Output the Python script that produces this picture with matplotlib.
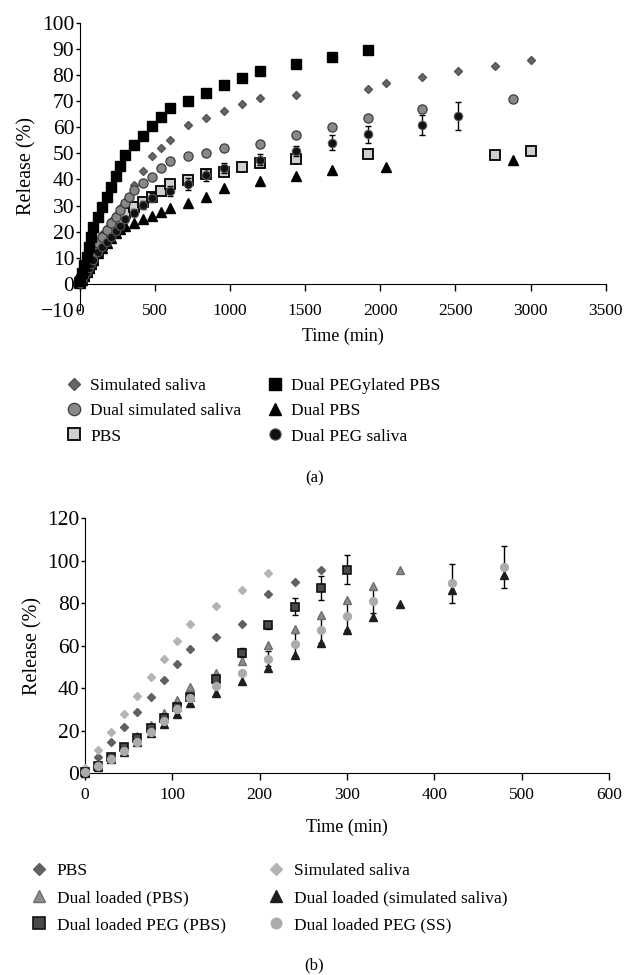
import matplotlib
matplotlib.use('Agg')
import matplotlib.pyplot as plt

plt.rcParams['font.family'] = ['Liberation Serif', 'DejaVu Serif']

# ---- panel (a): release over 3000 min ----
t_sal = [0, 15, 30, 45, 60, 75, 90, 120, 150, 180, 210, 240, 270, 300, 360, 420, 480, 540, 600,
         720, 840, 960, 1080, 1200, 1440, 1920, 2040, 2280, 2520, 2760, 3000]
sal = [0.5, 2, 4, 6, 8, 10, 12, 16.5, 19, 21.5, 24, 26.5, 29, 31.5, 37.8, 43.1, 48.9, 52.2, 55.2,
       60.7, 63.6, 66.3, 68.8, 71.3, 72.3, 74.8, 77, 79.3, 81.5, 83.6, 85.7]

t_dsal = [0, 15, 30, 45, 60, 75, 90, 105, 120, 150, 180, 210, 240, 270, 300, 330, 360, 420, 480,
          540, 600, 720, 840, 960, 1200, 1440, 1680, 1920, 2280, 2880]
dsal = [0.5, 1.6, 3.5, 5.4, 7.3, 9.5, 11.2, 13.3, 15.6, 18.1, 20.7, 23.2, 25.7, 28.3, 30.8, 33.4,
        35.9, 38.5, 41.1, 44.2, 47.2, 48.9, 50.3, 52, 53.7, 56.9, 60, 63.4, 66.9, 70.9]

t_pbs = [0, 15, 30, 45, 60, 75, 90, 120, 150, 180, 210, 240, 270, 300, 360, 420, 480, 540, 600,
         720, 840, 960, 1080, 1200, 1440, 1920, 2760, 3000]
pbs = [0.5, 1.5, 3, 4.5, 6, 7.5, 9.5, 12.5, 15, 17.5, 20, 22.5, 25, 27, 29.3, 31.5, 33.4, 35.6, 38.2,
       39.7, 41.9, 42.9, 44.8, 46.3, 48, 49.6, 49.5, 51]

t_pegpbs = [0, 15, 30, 45, 60, 75, 90, 120, 150, 180, 210, 240, 270, 300, 360, 420, 480, 540, 600,
            720, 840, 960, 1080, 1200, 1440, 1680, 1920]
pegpbs = [1, 4.2, 7.3, 10.5, 14.3, 18.1, 21.9, 25.7, 29.3, 33.4, 37.2, 41.2, 45.3, 49.5, 53, 56.6,
          60.5, 63.8, 67.4, 70, 73, 76, 79, 81.7, 84.2, 86.7, 89.5]

t_dpbs = [0, 15, 30, 45, 60, 75, 90, 120, 150, 180, 210, 240, 270, 300, 360, 420, 480, 540, 600,
          720, 840, 960, 1200, 1440, 1680, 2040, 2880]
dpbs = [0.3, 1.5, 3, 4.5, 6, 7.5, 9, 12, 13.8, 15.7, 17.6, 19.5, 21, 22.3, 23.5, 24.9, 26.1, 27.6,
        28.9, 30.8, 33.1, 36.6, 39.3, 41.4, 43.5, 44.8, 47.6]

t_pegsal = [0, 15, 30, 45, 60, 75, 90, 120, 150, 180, 210, 240, 270, 300, 360, 420, 480, 600,
            720, 840, 960, 1200, 1440, 1680, 1920, 2280, 2520]
pegsal = [0.3, 1.5, 3, 4.5, 6, 7.5, 9, 12.4, 14.3, 16.2, 18.1, 20.4, 22.3, 24.8, 27.3, 30.3, 33,
          35.6, 38.2, 41.6, 44.4, 47.6, 50.8, 54.1, 57.3, 60.7, 64.2]
pegsal_err = [0, 0, 0, 0, 0, 0, 0, 0.5, 0.5, 0.5, 0.5, 0.8, 0.8, 1, 1.2, 1.5, 1.8, 1.9,
              2.4, 2.3, 1.9, 2.1, 2, 2.9, 3.2, 3.8, 5.3]

# ---- panel (b): release over 480 min ----
tb_pbs = [0, 15, 30, 45, 60, 75, 90, 105, 120, 150, 180, 210, 240, 270]
b_pbs = [1, 7.8, 14.7, 21.8, 28.7, 35.8, 43.9, 51.6, 58.5, 64.3, 70.1, 84.2, 90.2, 95.7]

tb_sal = [0, 15, 30, 45, 60, 75, 90, 105, 120, 150, 180, 210]
b_sal = [2.5, 11, 19.3, 27.9, 36.5, 45.2, 53.6, 62.3, 70.1, 78.7, 86.4, 94.1]

tb_dpbs = [0, 15, 30, 45, 60, 75, 90, 105, 120, 150, 180, 210, 240, 270, 300, 330, 360]
b_dpbs = [1, 4, 8, 12.5, 17.5, 22.5, 28.5, 34.5, 40.8, 47, 53, 60.4, 67.8, 74.5, 81.5, 88.3, 95.7]

tb_dsal = [0, 15, 30, 45, 60, 75, 90, 105, 120, 150, 180, 210, 240, 270, 300, 330, 360, 420, 480]
b_dsal = [0.3, 3, 6.5, 10, 14.5, 19, 23, 28, 32.9, 37.9, 43.6, 49.7, 55.7, 61.2, 67.4, 73.4, 79.5,
          86.3, 93.3]

tb_pegpbs = [0, 15, 30, 45, 60, 75, 90, 105, 120, 150, 180, 210, 240, 270, 300]
b_pegpbs = [0.5, 3.4, 7.5, 12.2, 16.5, 21.2, 26.2, 31.3, 35.8, 44.2, 56.8, 69.6, 78.4, 87.1, 95.8]
b_pegpbs_err = [0, 0, 0, 0, 0, 0, 0, 0, 0.5, 1, 2, 1.5, 4.1, 5.5, 6.8]

tb_pegss = [0, 15, 30, 45, 60, 75, 90, 105, 120, 150, 180, 210, 240, 270, 300, 330, 420, 480]
b_pegss = [0.5, 3.2, 6.6, 10.5, 14.9, 19.4, 24.8, 30.1, 35.3, 41.1, 47.3, 53.9, 60.7, 67.4, 74.2,
           81.2, 89.4, 97.2]
b_pegss_err = [0, 0, 0, 0, 0, 0, 0, 0, 0, 0, 0, 3.5, 5.5, 6.3, 7, 6, 9.1, 9.9]


def style_axes(ax, xlim, ylim, xstep, ystep, cross_zero, xlabelpad):
    ax.set_xlim(*xlim)
    ax.set_ylim(*ylim)
    ax.set_xticks(range(xlim[0], xlim[1] + 1, xstep))
    ax.set_yticks(range(ylim[0], ylim[1] + 1, ystep))
    ax.spines['top'].set_visible(False)
    ax.spines['right'].set_visible(False)
    if cross_zero:
        ax.spines['bottom'].set_position(('data', 0))
    ax.tick_params(axis='x', direction='out', length=5, width=1, labelsize=12.5, pad=9 if cross_zero else 5)
    ax.tick_params(axis='y', direction='out', length=3, width=1, labelsize=15.5, pad=1)
    ax.set_xlabel('Time (min)', fontsize=13, labelpad=xlabelpad)
    ax.set_ylabel('Release (%)', fontsize=14.5, labelpad=3)


fig = plt.figure(figsize=(6.29, 9.75), dpi=100)

# panel (a)
ax1 = fig.add_axes([0.127, 0.682, 0.836, 0.2947])
eb = ax1.errorbar(t_pegsal, pegsal, yerr=pegsal_err, fmt='none', ecolor='black',
                  elinewidth=1, capsize=2.5, zorder=4)
for art in eb.lines[1] + eb.lines[2]:
    art.set_clip_on(False)
h_sal, = ax1.plot(t_sal, sal, 'D', ms=4.2, color='#666666', mec='#555555', zorder=2, clip_on=False,
                  label='Simulated saliva')
h_pbs, = ax1.plot(t_pbs, pbs, 's', ms=6.5, mfc='#cfcfcf', mec='black', mew=1.3, zorder=2, clip_on=False,
                  label='PBS')
h_dpbs, = ax1.plot(t_dpbs, dpbs, '^', ms=6.8, color='black', zorder=3, clip_on=False,
                   label='Dual PBS')
h_dsal, = ax1.plot(t_dsal, dsal, 'o', ms=6.6, mfc='#888888', mec='#3c3c3c', mew=0.9, zorder=3, clip_on=False,
                   label='Dual simulated saliva')
h_pegsal, = ax1.plot(t_pegsal, pegsal, 'o', ms=6.0, mfc='#111111', mec='#555555', mew=0.8, zorder=5,
                     clip_on=False, label='Dual PEG saliva')
h_pegpbs, = ax1.plot(t_pegpbs, pegpbs, 's', ms=6.7, color='black', zorder=5, clip_on=False,
                     label='Dual PEGylated PBS')
style_axes(ax1, (0, 3500), (-10, 100), 500, 10, True, 6)

leg_kw = dict(frameon=False, fontsize=12.5, handlelength=1.0, borderpad=0, borderaxespad=0,
              loc='upper left', markerscale=1.35)
fig.legend(handles=[h_sal, h_dsal, h_pbs], bbox_to_anchor=(65 / 629, 1 - 378 / 975),
           handletextpad=0.45, labelspacing=0.52, **leg_kw)
fig.legend(handles=[h_pegpbs, h_dpbs, h_pegsal], bbox_to_anchor=(266 / 629, 1 - 378 / 975),
           handletextpad=0.45, labelspacing=0.52, **leg_kw)
fig.text(0.5, 1 - 478 / 975, '(a)', ha='center', va='center', fontsize=12)

# panel (b)
ax2 = fig.add_axes([0.1351, 0.2069, 0.8335, 0.2616])
eb2 = ax2.errorbar(tb_pegpbs, b_pegpbs, yerr=b_pegpbs_err, fmt='none', ecolor='black',
                   elinewidth=1, capsize=2.5, zorder=2)
eb3 = ax2.errorbar(tb_pegss, b_pegss, yerr=b_pegss_err, fmt='none', ecolor='black',
                   elinewidth=1, capsize=2.5, zorder=2)
g_pbs, = ax2.plot(tb_pbs, b_pbs, 'D', ms=4.5, color='#606060', zorder=3, clip_on=False, label='PBS')
g_sal, = ax2.plot(tb_sal, b_sal, 'D', ms=4.5, color='#b4b4b4', zorder=3, clip_on=False,
                  label='Simulated saliva')
g_dpbs, = ax2.plot(tb_dpbs, b_dpbs, '^', ms=6.2, mfc='#8c8c8c', mec='#6e6e6e', zorder=3, clip_on=False,
                   label='Dual loaded (PBS)')
g_dsal, = ax2.plot(tb_dsal, b_dsal, '^', ms=6.2, color='#1e1e1e', zorder=3, clip_on=False,
                   label='Dual loaded (simulated saliva)')
g_pegpbs, = ax2.plot(tb_pegpbs, b_pegpbs, 's', ms=6.0, mfc='#4a4a4a', mec='#111111', mew=1.2, zorder=4,
                     clip_on=False, label='Dual loaded PEG (PBS)')
g_pegss, = ax2.plot(tb_pegss, b_pegss, 'o', ms=5.6, color='#ababab', zorder=4, clip_on=False,
                    label='Dual loaded PEG (SS)')
style_axes(ax2, (0, 600), (0, 120), 100, 20, False, 11)

fig.legend(handles=[g_pbs, g_dpbs, g_pegpbs], bbox_to_anchor=(30 / 629, 1 - 863 / 975),
           handletextpad=0.55, labelspacing=0.62, **leg_kw)
fig.legend(handles=[g_sal, g_dsal, g_pegss], bbox_to_anchor=(267 / 629, 1 - 863 / 975),
           handletextpad=0.55, labelspacing=0.62, **leg_kw)
fig.text(0.5, 1 - 965 / 975, '(b)', ha='center', va='center', fontsize=12)

fig.savefig('out.png', dpi=100)
